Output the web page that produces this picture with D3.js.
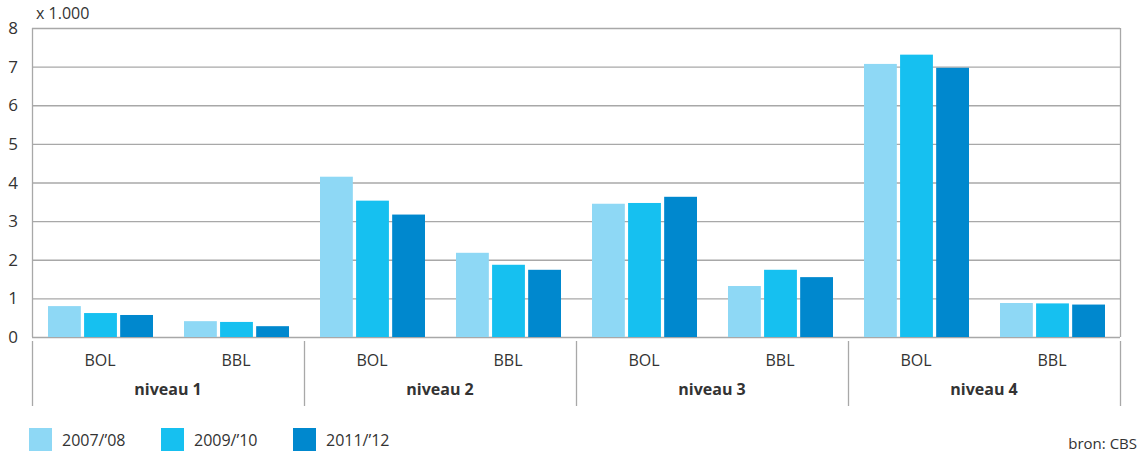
<!DOCTYPE html>
<html>
<head>
<meta charset="utf-8">
<script src="https://cdn.jsdelivr.net/npm/d3@7"></script>
<style>
  body { margin: 0; background: #fff; }
  text { font-family: "Open Sans", Lato, sans-serif; fill: #333; }
</style>
</head>
<body>
<div id="chart"></div>
<script>
var levels = ["niveau 1", "niveau 2", "niveau 3", "niveau 4"];
var types = ["BOL", "BBL"];
var years = ["2007/\u201908", "2009/\u201910", "2011/\u201912"];
var colours = ["#8ed8f5", "#16c0f0", "#0088ce"];
var yTicks = [0, 1, 2, 3, 4, 5, 6, 7, 8];

// values per level, per type (BOL, BBL), per year, x 1.000
var values2007 = [0.80, 0.41, 4.15, 2.18, 3.45, 1.32, 7.07, 0.88];
var values2009 = [0.62, 0.39, 3.53, 1.87, 3.47, 1.74, 7.31, 0.87];
var values2011 = [0.57, 0.28, 3.17, 1.74, 3.63, 1.55, 6.97, 0.84];
var series = [values2007, values2009, values2011];

var width = 1147, height = 453;
var plotLeft = 32, plotRight = 1120, plotTop = 28, plotBottom = 337;

var svg = d3.select("#chart").append("svg")
.attr("width", width)
.attr("height", height);

var x0 = d3.scaleBand().domain(levels).range([plotLeft, plotRight]);
var x1 = d3.scaleBand().domain(types).range([0, x0.bandwidth()]);
var x2 = d3.scaleBand().domain(years).range([16, x1.bandwidth() - 15]).paddingInner(0.09);
var y = d3.scaleLinear().domain([0, 8]).range([plotBottom, plotTop]);

// gridlines
svg.append("g")
.selectAll("line")
.data(yTicks)
.enter().append("line")
.attr("x1", plotLeft).attr("x2", plotRight)
.attr("y1", function(d) { return y(d) + 0.5; })
.attr("y2", function(d) { return y(d) + 0.5; })
.attr("stroke", "#a8a8a8")
.attr("stroke-width", 1.3);

// y labels
svg.append("g")
.selectAll("text")
.data(yTicks)
.enter().append("text")
.attr("x", 13)
.attr("y", function(d) { return y(d) + 6; })
.attr("text-anchor", "middle")
.style("font-size", "17px")
.text(function(d) { return d; });

svg.append("text")
.attr("x", 36).attr("y", 19)
.style("font-size", "16px")
.text("x 1.000");

// vertical frame
svg.append("line")
.attr("x1", plotLeft + 0.5).attr("x2", plotLeft + 0.5)
.attr("y1", plotTop).attr("y2", plotBottom)
.attr("stroke", "#a8a8a8").attr("stroke-width", 1.3);
svg.append("line")
.attr("x1", plotRight + 0.5).attr("x2", plotRight + 0.5)
.attr("y1", plotTop).attr("y2", plotBottom)
.attr("stroke", "#a8a8a8").attr("stroke-width", 1.3);

// bars
var rows = [];
levels.forEach(function(l, i) {
  types.forEach(function(t, j) {
    years.forEach(function(yr, k) {
      rows.push({level: l, type: t, year: yr, k: k, value: series[k][i * 2 + j]});
    });
  });
});

svg.append("g")
.selectAll("rect")
.data(rows)
.enter().append("rect")
.attr("x", function(d) { return x0(d.level) + x1(d.type) + x2(d.year); })
.attr("y", function(d) { return y(d.value); })
.attr("width", x2.bandwidth())
.attr("height", function(d) { return y(0) - y(d.value); })
.style("fill", function(d) { return colours[d.k]; });

// category separators
var seps = levels.map(function(l) { return x0(l); }).concat([plotRight]);
svg.append("g")
.selectAll("line")
.data(seps)
.enter().append("line")
.attr("x1", function(d) { return d + 0.5; })
.attr("x2", function(d) { return d + 0.5; })
.attr("y1", 341).attr("y2", 406)
.attr("stroke", "#a8a8a8").attr("stroke-width", 1.3);

// type labels
levels.forEach(function(l) {
  types.forEach(function(t) {
    svg.append("text")
    .attr("x", x0(l) + x1(t) + x1.bandwidth() / 2)
    .attr("y", 366)
    .attr("text-anchor", "middle")
    .style("font-size", "16px")
    .text(t);
  });
  svg.append("text")
  .attr("x", x0(l) + x0.bandwidth() / 2)
  .attr("y", 395)
  .attr("text-anchor", "middle")
  .style("font-size", "16px")
  .style("font-weight", "bold")
  .text(l);
});

// legend
var legendX = [29, 161, 293];
var legend = svg.append("g")
.selectAll("g")
.data(years)
.enter().append("g")
.attr("transform", function(d, i) { return "translate(" + legendX[i] + ",428)"; });
legend.append("rect")
.attr("width", 23).attr("height", 23)
.style("fill", function(d, i) { return colours[i]; });
legend.append("text")
.attr("x", 33).attr("y", 18)
.style("font-size", "16px")
.text(function(d) { return d; });

svg.append("text")
.attr("x", 1137).attr("y", 449)
.attr("text-anchor", "end")
.style("font-size", "15px")
.text("bron: CBS");
</script>
</body>
</html>
